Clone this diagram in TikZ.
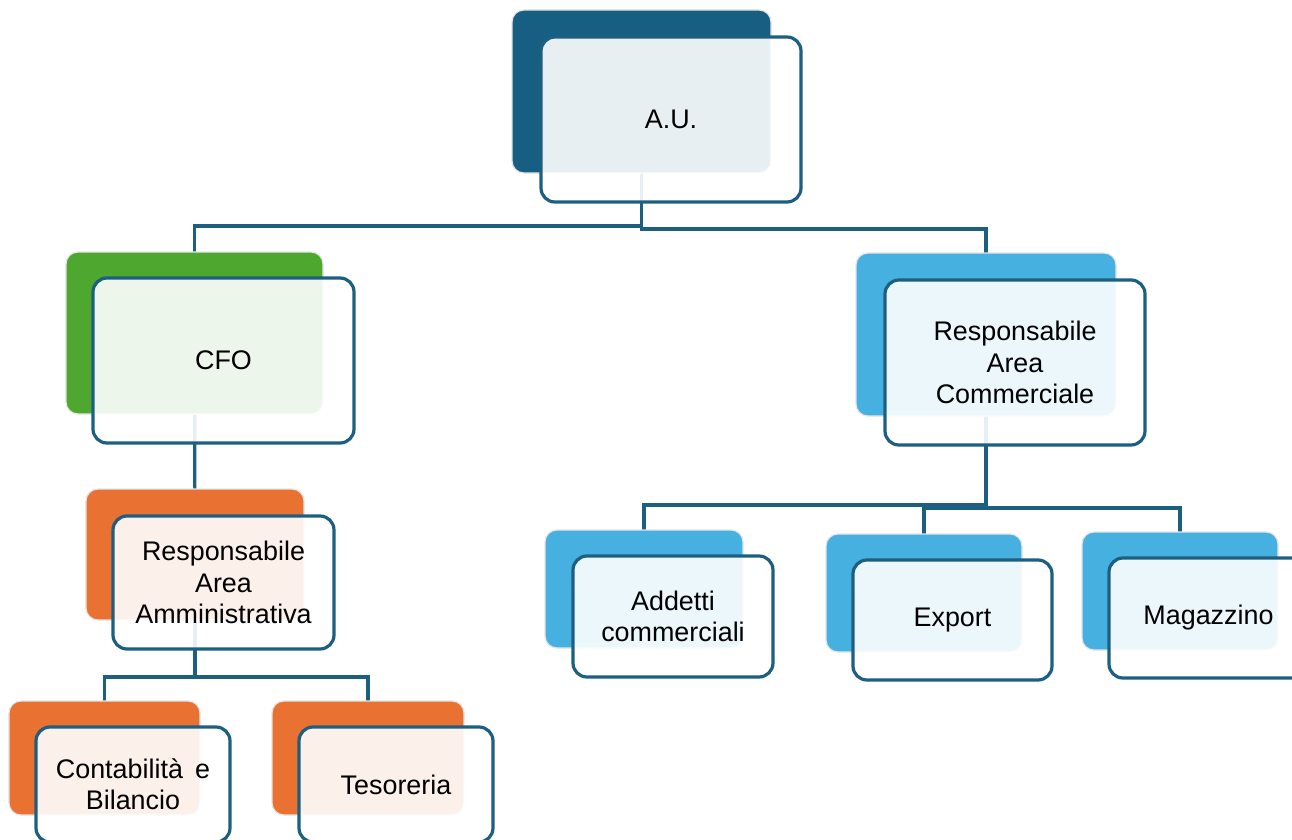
\documentclass[tikz,border=0pt]{standalone}
\usepackage{fontspec}
\setmainfont{Liberation Sans}
\definecolor{cDark}{HTML}{175F82}
\definecolor{cGreen}{HTML}{4EA72E}
\definecolor{cOrange}{HTML}{E97132}
\definecolor{cLight}{HTML}{46B1E1}
\definecolor{cBorder}{HTML}{1D5F80}
\pgfdeclarelayer{bg}
\pgfsetlayers{bg,main}
\begin{document}
\begin{tikzpicture}[x=1bp,y=-1bp,
  back/.style={rounded corners=12bp, draw=black!10, line width=1.2bp, inner sep=0pt},
  front/.style={rounded corners=14bp, draw=cBorder, line width=3.2bp, fill=white, fill opacity=0.9, text opacity=1, inner sep=0pt, align=center, font=\fontsize{27}{31.5}\selectfont},
  conn/.style={draw=cBorder, line width=3.2bp}]
\useasboundingbox (0,0) rectangle (1292,840);
\clip (0,0) rectangle (1292,840);
% A.U.
\node[back, fill=cDark, minimum width=259bp, minimum height=163bp] (au) at (641.5,91.5) {};
\node[front, minimum width=260bp, minimum height=165bp] (auF) at (671,119.5) {A.U.};
% CFO
\node[back, fill=cGreen, minimum width=257bp, minimum height=162bp] (cfo) at (194.5,333) {};
\node[front, minimum width=261bp, minimum height=165bp] (cfoF) at (223.5,360.5) {CFO};
% Resp. Area Amministrativa
\node[back, fill=cOrange, minimum width=218bp, minimum height=131bp] (ra) at (195,554.5) {};
\node[front, minimum width=221bp, minimum height=133bp] (raF) at (223.5,582.5) {Responsabile\\Area\\Amministrativa};
% Contabilita
\node[back, fill=cOrange, minimum width=191bp, minimum height=114bp] (cb) at (104.5,758) {};
\node[front, minimum width=194bp, minimum height=115bp] (cbF) at (133,784.5) {Contabilità\hspace{0.45em}e\\Bilancio};
% Tesoreria
\node[back, fill=cOrange, minimum width=192bp, minimum height=114bp] (tes) at (368,758) {};
\node[front, minimum width=194bp, minimum height=115bp] (tesF) at (396,784.5) {Tesoreria};
% Resp. Area Commerciale
\node[back, fill=cLight, minimum width=260bp, minimum height=163bp] (rc) at (986,334.5) {};
\node[front, minimum width=260bp, minimum height=165bp] (rcF) at (1015,362.5) {Responsabile\\Area\\Commerciale};
% Addetti commerciali
\node[back, fill=cLight, minimum width=198bp, minimum height=118bp] (add) at (644,589) {};
\node[front, minimum width=200bp, minimum height=121bp] (addF) at (673,616.5) {Addetti\\commerciali};
% Export
\node[back, fill=cLight, minimum width=196bp, minimum height=118bp] (exp) at (924,593) {};
\node[front, minimum width=199bp, minimum height=120bp] (expF) at (952.5,620) {Export};
% Magazzino
\node[back, fill=cLight, minimum width=196bp, minimum height=118bp] (mag) at (1180,591) {};
\node[front, minimum width=199bp, minimum height=120bp] (magF) at (1208.5,618) {Magazzino};
% connectors
\begin{pgfonlayer}{bg}
\draw[conn] (au.center) -- (au.center |- 0,229) -| (rc.center);
\draw[conn] (au.center |- 0,226) -| (cfo.center);
\draw[conn] (cfo.center) -- (ra.center);
\draw[conn] (ra.center) -- (ra.center |- 0,677) -| (cb.center);
\draw[conn] (ra.center |- 0,677) -| (tes.center);
\draw[conn] (rc.center) -- (rc.center |- 0,508) -| (exp.center);
\draw[conn] (rc.center |- 0,508) -| (mag.center);
\draw[conn] (rc.center |- 0,505) -| (add.center);
\end{pgfonlayer}
\end{tikzpicture}
\end{document}
